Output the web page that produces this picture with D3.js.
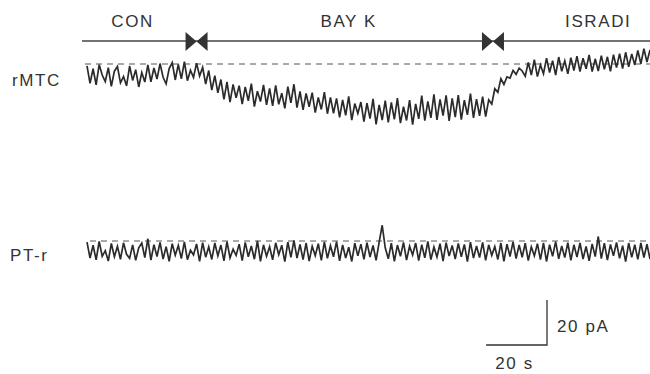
<!DOCTYPE html>
<html>
<head>
<meta charset="utf-8">
<script src="https://cdn.jsdelivr.net/npm/d3@7"></script>
<style>
  body { margin: 0; background: #fff; }
  text { font-family: "Liberation Sans", Arial, sans-serif; fill: #333; letter-spacing: 1.6px; }
</style>
</head>
<body>
<div class="chart"></div>
<script>
// drug periods (s) and labels
const periods = ["CON", "BAY K", "ISRADI"];
const periodLabelTimes = [15, 86, 168];
const switchTimes = [36, 133.4];

// current traces, pA relative to holding baseline, 1 sample per second
const rMTC = [
  -0.8,-8.6,-2.1,-9.3,-0.3,-4.9,-7.8,-1.6,-9.9,-3.2,
  -1.1,-8.4,-5.6,-9.7,-0.9,-7.3,-2.5,-10.2,-3.8,-8.0,
  -0.4,-7.9,-1.8,-6.7,0.2,-5.9,-8.8,-2.0,0.6,-7.1,
  -0.2,-6.6,1.0,-7.4,-2.8,-6.0,0.4,-5.3,-1.5,-8.9,
  -2.9,-11.6,-5.2,-12.8,-6.9,-15.7,-8.0,-16.9,-9.1,-15.0,
  -9.6,-17.8,-10.2,-16.4,-8.7,-18.9,-12.1,-16.7,-9.3,-18.2,
  -10.8,-18.6,-9.5,-17.9,-13.0,-19.7,-10.1,-17.3,-9.0,-19.4,
  -12.2,-20.4,-13.1,-19.0,-12.7,-21.6,-14.9,-20.2,-12.5,-22.1,
  -14.8,-21.9,-15.3,-23.7,-16.0,-22.8,-14.4,-24.9,-17.6,-22.0,
  -16.9,-25.6,-17.4,-24.3,-15.5,-26.8,-18.2,-24.9,-16.3,-25.9,
  -17.1,-24.6,-15.2,-26.3,-19.0,-25.1,-16.0,-27.0,-17.7,-24.4,
  -14.1,-25.2,-16.6,-23.9,-13.5,-24.8,-15.7,-22.9,-13.9,-25.3,
  -15.3,-23.6,-13.8,-24.7,-16.1,-22.6,-13.2,-23.9,-15.6,-23.0,
  -14.5,-23.4,-15.9,-17.8,-11.0,-12.6,-6.5,-9.1,-5.7,-6.3,
  -2.9,-4.6,-1.8,-3.1,-5.4,0.7,-4.9,1.9,-5.6,-0.4,
  -4.3,2.6,-3.8,1.5,-4.9,3.1,-3.2,1.4,-4.4,2.8,
  -2.9,3.5,-3.4,2.6,-2.1,4.0,-3.4,2.3,-3.1,3.7,
  -2.4,3.2,-3.3,4.1,-1.6,4.6,-2.0,5.2,-1.2,4.5,
  -0.4,6.0,0.1,6.8,0.9,6.2
];

const PTr = [
  -0.5,-7.6,-1.9,-8.4,-0.2,-6.8,-4.3,-8.9,-1.1,-7.0,
  -2.4,-8.1,-0.8,-5.9,-7.7,-1.7,-8.6,-3.0,-0.9,-7.4,
  1.0,-8.5,-1.6,-6.9,-0.6,-8.0,-2.5,-9.0,-1.2,-6.3,
  -2.0,-7.8,-0.4,-8.3,-4.1,-6.2,-1.3,-9.1,-0.7,-7.2,
  -2.6,-8.2,-0.9,-6.6,-1.8,-8.8,-0.3,-7.5,-3.6,-6.4,
  -1.4,-8.7,-0.6,-7.0,-2.2,-8.1,0.0,-9.0,-1.7,-6.8,
  -2.5,-8.4,-0.8,-6.1,-1.9,-9.2,-0.5,-7.3,0.3,-7.6,
  -1.5,-8.3,-0.9,-8.9,-2.4,-6.5,-1.2,-8.6,-0.4,-7.7,
  -2.1,-7.0,-0.3,-8.8,-1.7,-7.6,-2.8,-9.1,-1.0,-6.6,
  -1.4,-8.2,-0.7,-7.1,-2.0,-8.6,-0.5,7.0,-3.0,-7.9,
  -1.0,-9.0,-1.8,-6.8,-0.6,-8.5,-2.3,-6.2,-0.9,-8.7,
  -1.6,-7.5,-0.2,-8.3,-2.7,-7.1,-1.2,-8.9,-0.7,-6.7,
  -2.0,-8.0,-1.1,-7.0,-1.5,-9.2,-0.5,-7.6,-2.2,-7.4,
  -0.6,-8.6,-1.7,-6.4,-2.5,-8.2,-0.9,-9.0,-1.4,-6.9,
  -0.4,-7.8,-1.8,-7.2,-1.0,-8.7,-2.6,-6.6,-1.2,-8.3,
  -0.8,-9.1,-1.6,-6.8,-0.3,-7.9,-2.2,-7.4,-0.7,-8.6,
  -1.7,-7.1,-0.9,-8.0,-2.4,-8.8,-1.3,-6.9,2.0,-7.8,
  -1.0,-8.5,-1.5,-6.6,-0.6,-7.7,-2.1,-9.2,-0.9,-7.3,
  -1.6,-8.2,-0.8,-7.4,-1.4,-8.0
];

const traceNames = ["rMTC", "PT-r"];
const scaleBar = {seconds: 20, pA: 20};

const WIDTH = 650, HEIGHT = 374;

const svg = d3.select(".chart").append("svg")
  .attr("width", WIDTH)
  .attr("height", HEIGHT);

const x = d3.scaleLinear().domain([0, rMTC.length - 1]).range([87, 650]);
// 2.25 px per pA, baselines at y=64 and y=241
const yTop = d3.scaleLinear().domain([0, 20]).range([64, 19]);
const yBot = d3.scaleLinear().domain([0, 20]).range([241, 196]);

// protocol line with drug-switch markers
svg.append("line")
  .attr("x1", 82).attr("x2", WIDTH)
  .attr("y1", 41).attr("y2", 41)
  .attr("stroke", "#444").attr("stroke-width", 1.3);

switchTimes.forEach(t => {
  const cx = x(t);
  svg.append("path")
    .attr("d", `M${cx - 11},32 L${cx},41.5 L${cx - 11},51 Z M${cx + 11},32 L${cx},41.5 L${cx + 11},51 Z`)
    .attr("fill", "#333");
});

svg.selectAll("text.period")
  .data(periods)
  .enter().append("text")
  .attr("class", "period")
  .attr("x", (d, i) => x(periodLabelTimes[i]))
  .attr("y", 27)
  .attr("text-anchor", "middle")
  .attr("font-size", 17)
  .text(d => d);

// dashed baselines
[[yTop, 85], [yBot, 90]].forEach(([ys, x0]) => {
  svg.append("line")
    .attr("x1", x0).attr("x2", WIDTH)
    .attr("y1", ys(0)).attr("y2", ys(0))
    .attr("stroke", "#555").attr("stroke-width", 1)
    .attr("stroke-dasharray", "6,5");
});

// traces
const drawTrace = (data, ys) => {
  svg.append("path")
    .datum(data)
    .attr("fill", "none")
    .attr("stroke", "#2b2b2b")
    .attr("stroke-width", 1.7)
    .attr("stroke-linejoin", "miter")
    .attr("d", d3.line().x((d, i) => x(i)).y(d => ys(d)));
};
drawTrace(rMTC, yTop);
drawTrace(PTr, yBot);

svg.append("text").attr("x", 12).attr("y", 86).attr("font-size", 17).text(traceNames[0]);
svg.append("text").attr("x", 10).attr("y", 261).attr("font-size", 17).text(traceNames[1]);

// scale bar
const sbX = 547, sbY = 345;
const sbW = x(scaleBar.seconds) - x(0);
const sbH = yTop(0) - yTop(scaleBar.pA);
svg.append("path")
  .attr("d", `M${sbX - sbW},${sbY} L${sbX},${sbY} L${sbX},${sbY - sbH}`)
  .attr("fill", "none")
  .attr("stroke", "#333").attr("stroke-width", 1.3);

svg.append("text")
  .attr("x", sbX + 10).attr("y", sbY - 13)
  .attr("font-size", 17)
  .text(`${scaleBar.pA} pA`);

svg.append("text")
  .attr("x", sbX - sbW / 2 - 2).attr("y", 369)
  .attr("text-anchor", "middle")
  .attr("font-size", 17)
  .text(`${scaleBar.seconds} s`);
</script>
</body>
</html>
